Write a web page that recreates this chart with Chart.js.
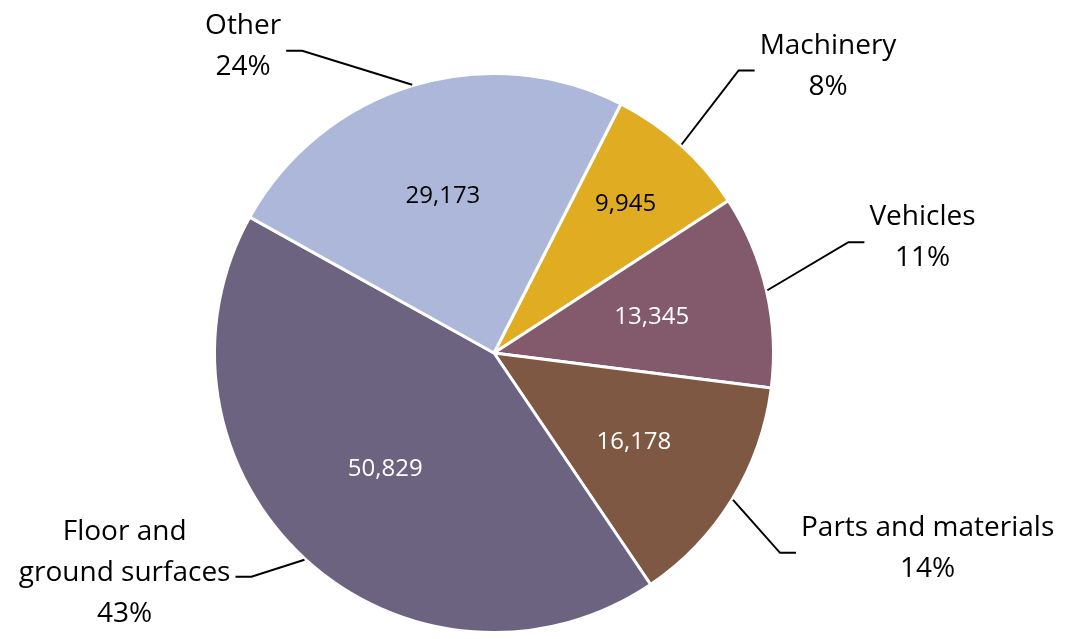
<!DOCTYPE html>
<html>
<head>
<meta charset="utf-8">
<script src="https://cdn.jsdelivr.net/npm/chart.js@4/dist/chart.umd.min.js"></script>
<style>
  html, body { margin: 0; padding: 0; background: #fff; }
  #wrap { width: 1069px; height: 639px; position: relative; }
</style>
</head>
<body>
<div id="wrap"><canvas id="pieChart"></canvas></div>
<script>
// categories and values, clockwise from the Machinery slice
const categories = ['Machinery', 'Vehicles', 'Parts and materials', ['Floor and', 'ground surfaces'], 'Other'];
const values = [9945, 13345, 16178, 50829, 29173];
const sliceColors = ['#e0ad22', '#825a6c', '#7f5843', '#6c6380', '#adb7da'];
const valueColors = ['#000', '#fff', '#fff', '#fff', '#000'];

// label placement: where the value sits (fraction of radius),
// elbow of the leader line relative to the rim point, side of the text
const valueRadius = [0.72, 0.59, 0.6, 0.56, 0.59];
const elbow = [[57, -74], [81, -48], [47, 53], [-53, 17], [-110, -34]];
const side = [1, 1, 1, -1, -1];
const firstLineDy = [-24, -25, -25, -45, -25];

const fontFamily = '"Open Sans", "Noto Sans", sans-serif';

const calloutPlugin = {
  id: 'callouts',
  afterDatasetsDraw(chart) {
    const ctx = chart.ctx;
    const meta = chart.getDatasetMeta(0);
    const total = values.reduce((a, b) => a + b, 0);
    ctx.save();
    meta.data.forEach((arc, i) => {
      const p = arc.getProps(['x', 'y', 'startAngle', 'endAngle', 'outerRadius'], true);
      const mid = (p.startAngle + p.endAngle) / 2;

      // value inside the slice
      const vr = p.outerRadius * valueRadius[i];
      ctx.font = '24px ' + fontFamily;
      ctx.fillStyle = valueColors[i];
      ctx.textAlign = 'center';
      ctx.textBaseline = 'middle';
      ctx.fillText(values[i].toLocaleString('en-US'), p.x + Math.cos(mid) * vr - 3, p.y + Math.sin(mid) * vr + 1);

      // leader line
      const rx = p.x + Math.cos(mid) * (p.outerRadius + 1);
      const ry = p.y + Math.sin(mid) * (p.outerRadius + 1);
      const ex = rx + elbow[i][0];
      const ey = ry + elbow[i][1];
      const hx = ex + side[i] * 16;
      ctx.strokeStyle = '#000';
      ctx.lineWidth = 2;
      ctx.beginPath();
      ctx.moveTo(rx, ry);
      ctx.lineTo(ex, ey);
      ctx.lineTo(hx, ey);
      ctx.stroke();

      // category name and share
      const pct = Math.round(values[i] / total * 100) + '%';
      const lines = [].concat(categories[i], pct);
      ctx.font = '28px ' + fontFamily;
      ctx.fillStyle = '#000';
      const w = Math.max(...lines.map(t => ctx.measureText(t).width));
      const cx = hx + side[i] * (5 + w / 2);
      lines.forEach((t, k) => {
        ctx.fillText(t, cx, ey + firstLineDy[i] + k * 41);
      });
    });
    ctx.restore();
  }
};

new Chart(document.getElementById('pieChart'), {
  type: 'pie',
  data: {
    labels: categories.map(c => [].concat(c).join(' ')),
    datasets: [{
      data: values,
      backgroundColor: sliceColors,
      borderColor: '#fff',
      borderWidth: 3
    }]
  },
  options: {
    responsive: true,
    maintainAspectRatio: false,
    animation: false,
    rotation: 27,
    layout: { padding: { left: 0, right: 81, top: 72, bottom: 5 } },
    plugins: {
      legend: { display: false },
      tooltip: { enabled: false }
    }
  },
  plugins: [calloutPlugin]
});
</script>
</body>
</html>
